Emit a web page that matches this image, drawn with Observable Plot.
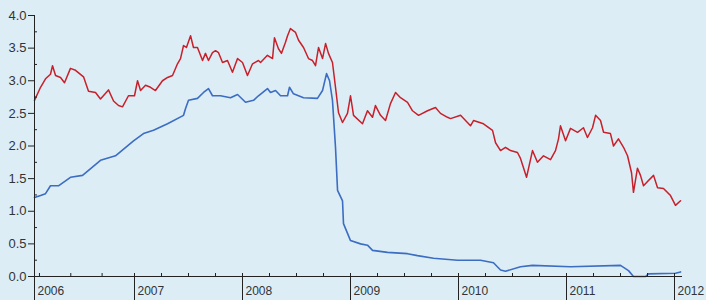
<!DOCTYPE html>
<html><head><meta charset="utf-8">
<script src="https://cdn.jsdelivr.net/npm/d3@7"></script>
<script src="https://cdn.jsdelivr.net/npm/@observablehq/plot@0.6"></script>
<style>
html,body{margin:0;padding:0;background:#ddedf6;}
#chart{width:706px;height:300px;}
</style></head><body><div id="chart"></div>
<script>
const redYears = [2006.074,2006.13,2006.176,2006.222,2006.241,2006.269,2006.315,2006.352,2006.407,2006.454,2006.528,2006.574,2006.639,2006.685,2006.759,2006.806,2006.852,2006.889,2006.944,2007.0,2007.028,2007.056,2007.102,2007.148,2007.194,2007.259,2007.306,2007.352,2007.398,2007.426,2007.454,2007.481,2007.519,2007.546,2007.583,2007.63,2007.657,2007.685,2007.722,2007.75,2007.778,2007.815,2007.861,2007.907,2007.954,2008.0,2008.046,2008.093,2008.148,2008.167,2008.231,2008.278,2008.296,2008.333,2008.361,2008.398,2008.417,2008.444,2008.491,2008.519,2008.565,2008.611,2008.648,2008.676,2008.704,2008.741,2008.769,2008.796,2008.833,2008.861,2008.889,2008.926,2008.972,2009.0,2009.028,2009.111,2009.157,2009.204,2009.231,2009.278,2009.324,2009.37,2009.417,2009.463,2009.528,2009.574,2009.63,2009.713,2009.787,2009.833,2009.898,2009.926,2010.019,2010.111,2010.139,2010.231,2010.315,2010.343,2010.389,2010.435,2010.481,2010.546,2010.574,2010.63,2010.685,2010.731,2010.787,2010.852,2010.898,2010.926,2010.944,2010.991,2011.037,2011.102,2011.157,2011.194,2011.241,2011.269,2011.315,2011.343,2011.407,2011.435,2011.481,2011.528,2011.565,2011.602,2011.62,2011.657,2011.685,2011.713,2011.759,2011.806,2011.843,2011.898,2011.963,2012.009,2012.056];
const redValues = [2.70,2.90,3.03,3.10,3.23,3.08,3.05,2.97,3.19,3.16,3.06,2.84,2.82,2.72,2.86,2.69,2.62,2.60,2.77,2.77,3.00,2.85,2.93,2.90,2.85,3.00,3.05,3.08,3.26,3.34,3.54,3.51,3.69,3.51,3.51,3.31,3.42,3.31,3.43,3.46,3.43,3.28,3.31,3.13,3.34,3.28,3.08,3.26,3.31,3.28,3.39,3.34,3.66,3.49,3.42,3.59,3.69,3.80,3.74,3.62,3.51,3.34,3.31,3.23,3.51,3.34,3.57,3.42,3.28,2.90,2.51,2.36,2.50,2.77,2.47,2.34,2.54,2.44,2.62,2.47,2.39,2.65,2.82,2.74,2.67,2.54,2.47,2.54,2.59,2.50,2.44,2.42,2.47,2.31,2.39,2.34,2.24,2.05,1.93,1.98,1.93,1.90,1.81,1.52,1.93,1.75,1.85,1.79,1.93,2.11,2.31,2.08,2.27,2.21,2.28,2.13,2.28,2.47,2.39,2.21,2.19,2.00,2.11,1.98,1.85,1.59,1.29,1.66,1.55,1.39,1.47,1.55,1.36,1.35,1.24,1.09,1.16];
const blueYears = [2006.074,2006.13,2006.176,2006.222,2006.296,2006.407,2006.519,2006.685,2006.824,2006.991,2007.083,2007.176,2007.306,2007.454,2007.472,2007.5,2007.583,2007.639,2007.685,2007.722,2007.796,2007.889,2007.954,2008.028,2008.102,2008.148,2008.231,2008.259,2008.306,2008.352,2008.417,2008.435,2008.472,2008.565,2008.694,2008.741,2008.778,2008.806,2008.833,2008.861,2008.88,2008.926,2008.935,2009.0,2009.093,2009.157,2009.204,2009.343,2009.528,2009.62,2009.769,2009.991,2010.204,2010.324,2010.389,2010.435,2010.574,2010.685,2011.037,2011.5,2011.574,2011.62,2011.731,2011.759,2012.009,2012.056];
const blueValues = [1.21,1.24,1.27,1.39,1.39,1.52,1.55,1.78,1.85,2.08,2.19,2.24,2.34,2.47,2.57,2.70,2.73,2.82,2.88,2.77,2.77,2.74,2.79,2.67,2.70,2.77,2.88,2.82,2.85,2.77,2.77,2.90,2.80,2.74,2.73,2.85,3.11,3.00,2.70,1.98,1.32,1.16,0.81,0.55,0.50,0.48,0.40,0.37,0.35,0.32,0.28,0.25,0.25,0.21,0.10,0.08,0.15,0.17,0.15,0.17,0.09,0.00,0.00,0.04,0.05,0.07];
const yearTicks = [2006.074,2007,2008,2009,2010,2011,2012];
const yearLabels = ["2006","2007","2008","2009","2010","2011","2012"];
const quarterTicks = [2006.12,2006.41,2006.70,2007.25,2007.5,2007.75,2008.25,2008.5,2008.75,2009.25,2009.5,2009.75,2010.25,2010.5,2010.75,2011.25,2011.5,2011.75];
const yMajorTicks = [0,0.5,1,1.5,2,2.5,3,3.5,4];
const yMinorTicks = [0.25,0.75,1.25,1.75,2.25,2.75,3.25,3.75];

const red = redYears.map((t,i)=>({t, v: redValues[i]}));
const blue = blueYears.map((t,i)=>({t, v: blueValues[i]}));
const x0 = 2006.074, x1 = 2012.074;
const blank = () => "";

const chart = Plot.plot({
  width:706, height:300, marginLeft:34, marginRight:24, marginTop:15, marginBottom:24,
  style:{background:"#ddedf6", fontFamily:"'Liberation Sans', Arial, sans-serif", fontSize:"12px", color:"#222"},
  x:{domain:[x0,x1]}, y:{domain:[0,4]},
  marks:[
    Plot.lineY(red,{x:"t",y:"v",stroke:"#c8202a",strokeWidth:1.5}),
    Plot.lineY(blue,{x:"t",y:"v",stroke:"#3b6dc2",strokeWidth:1.6}),
    Plot.ruleX([x0],{stroke:"#222"}),
    Plot.ruleY([0],{stroke:"#222"}),
    Plot.axisY(yMajorTicks,{anchor:"left", tickSize:6, tickPadding:2, tickFormat:d=>d.toFixed(1), label:null, fill:"#333", fontSize:13}),
    Plot.axisY(yMinorTicks,{anchor:"left", tickSize:3, dx:3, tickFormat:blank, label:null}),
    Plot.axisX(yearTicks,{anchor:"bottom", tickSize:24, tickFormat:blank, label:null}),
    Plot.axisX(quarterTicks.concat(yearTicks),{anchor:"bottom", tickSize:3, dy:-3, tickFormat:blank, label:null}),
    Plot.axisX(yearTicks,{anchor:"bottom", tickSize:0, tickPadding:10, tickFormat:d=>yearLabels[yearTicks.indexOf(d)], textAnchor:"start", dx:3, label:null, fill:"#333"})
  ]
});
document.getElementById("chart").appendChild(chart);
</script></body></html>
